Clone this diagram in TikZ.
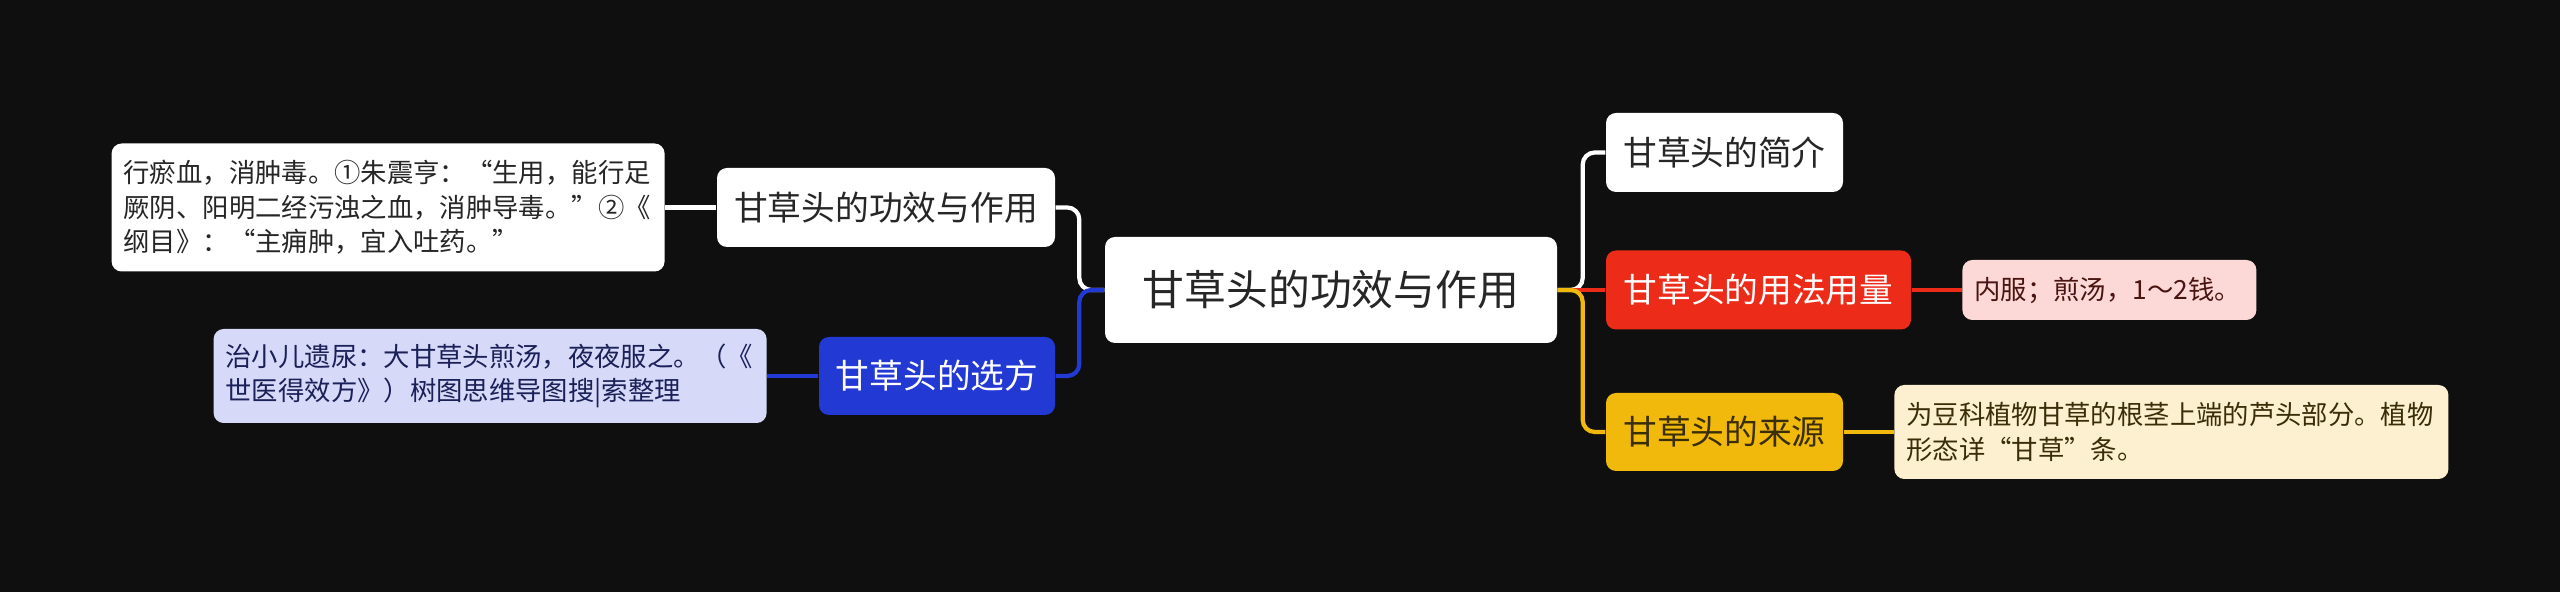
\documentclass[tikz,border=0pt]{standalone}
\usepackage{fontspec}
\setmainfont{Noto Sans CJK SC}
\usepackage{xcolor}
\usetikzlibrary{positioning}

\definecolor{bg}{HTML}{0F0F0F}
\definecolor{textdark}{HTML}{262626}
\definecolor{redbr}{HTML}{EC2B19}
\definecolor{yelbr}{HTML}{F0B90C}
\definecolor{bluebr}{HTML}{2339D4}
\definecolor{rednote}{HTML}{FCD8D6}
\definecolor{yelnote}{HTML}{FDF0D0}
\definecolor{bluenote}{HTML}{D6D9F7}
\definecolor{redtext}{HTML}{4A1410}
\definecolor{yeltext}{HTML}{3A2E08}
\definecolor{bluetext}{HTML}{1A2058}

\begin{document}
\begin{tikzpicture}[box/.style={
        rectangle,
        rounded corners=0.1cm,
        inner sep=0pt,
        minimum height=0.79cm
      },
      root/.style={box, fill=white, text=textdark,
        minimum width=4.52cm, minimum height=1.06cm,
        font=\fontsize{11.9}{14}\selectfont},
      topic/.style={box, font=\fontsize{9.6}{12}\selectfont},
      note/.style={box, align=left, inner xsep=0.12cm,
        font=\fontsize{7.5}{9.8}\selectfont},
      link/.style={line width=1.2pt, rounded corners=0.12cm},
      node distance=0.5cm]

    \fill[bg] (0,0) rectangle (25.6,5.92);

    \node[root] (root) at (13.31,3.02) {甘草头的功效与作用};
    \node[topic,fill=white,text=textdark,minimum width=2.37cm] (intro) at (17.245,4.395) {甘草头的简介};
    \node[topic,fill=redbr,text=white,minimum width=3.05cm] (usage) at (17.585,3.02) {甘草头的用法用量};
    \node[topic,fill=yelbr,text=yeltext,minimum width=2.37cm,minimum height=0.78cm] (source) at (17.245,1.60) {甘草头的来源};
    \node[note,fill=rednote,text=redtext,text width=2.70cm,minimum height=0.60cm,right=of usage] (dose) {内服；煎汤，1～2钱。};
    \node[note,fill=yelnote,text=yeltext,text width=5.30cm,minimum height=0.94cm,right=of source] (origin) {为豆科植物甘草的根茎上端的芦头部分。植物\\形态详“甘草”条。};

    \node[topic,fill=white,text=textdark,minimum width=3.38cm] (effect) at (8.86,3.845) {甘草头的功效与作用};
    \node[note,fill=white,text=textdark,text width=5.29cm,minimum height=1.28cm,left=0.51cm of effect] (effnote) {行瘀血，消肿毒。①朱震亨：“生用，能行足\\厥阴、阳明二经污浊之血，消肿导毒。”②《\\纲目》：“主痈肿，宜入吐药。”};
    \node[topic,fill=bluebr,text=white,minimum width=2.36cm,minimum height=0.78cm] (recipe) at (9.37,2.16) {甘草头的选方};
    \node[note,fill=bluenote,text=bluetext,text width=5.29cm,minimum height=0.94cm,left=0.51cm of recipe] (recnote) {治小儿遗尿：大甘草头煎汤，夜夜服之。（《\\世医得效方》）树图思维导图搜|索整理};

    \draw[link,draw=white] (root.east) -- ++(0.25,0) |- (intro.west);
    \draw[link,draw=redbr] (root.east) -- (usage.west);
    \draw[link,draw=yelbr] (root.east) -- ++(0.25,0) |- (source.west);
    \draw[link,draw=redbr] (usage.east) -- (dose.west);
    \draw[link,draw=yelbr] (source.east) -- (origin.west);
    \draw[link,draw=white] (root.west) -- ++(-0.25,0) |- (effect.east);
    \draw[link,draw=bluebr] (root.west) -- ++(-0.25,0) |- (recipe.east);
    \draw[link,draw=white] (effect.west) -- (effnote.east);
    \draw[link,draw=bluebr] (recipe.west) -- (recnote.east);
  \end{tikzpicture}
\end{document}
